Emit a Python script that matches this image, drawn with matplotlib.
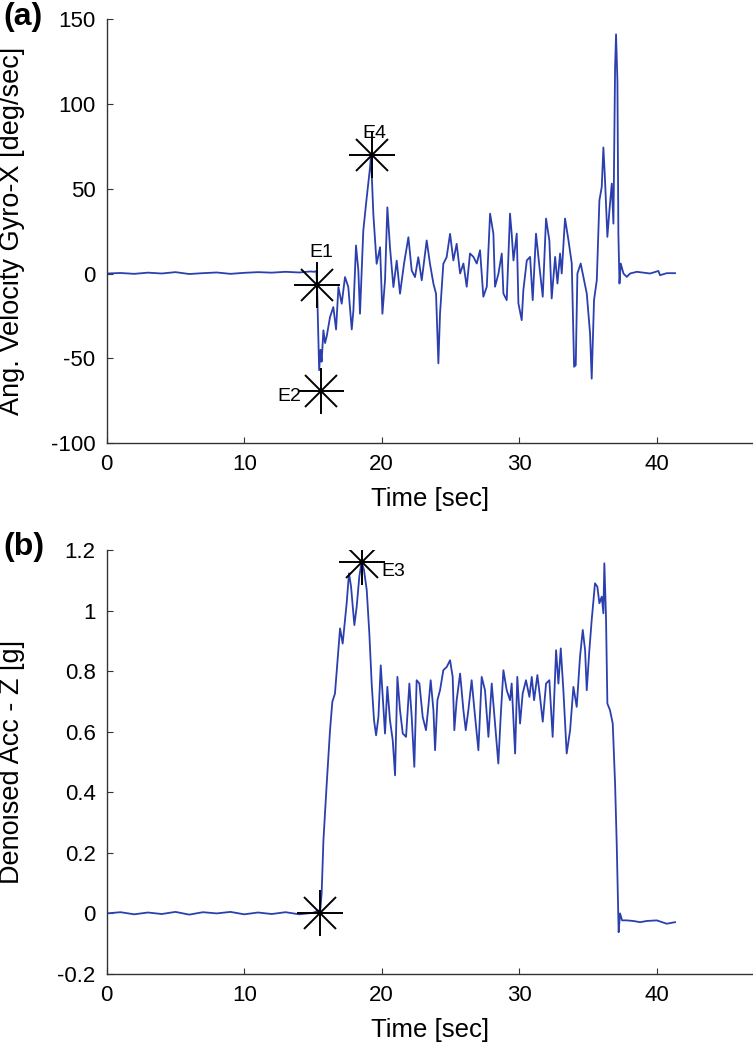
import matplotlib
matplotlib.use("Agg")
import matplotlib.pyplot as plt

plt.rcParams['font.family'] = ['Liberation Sans', 'DejaVu Sans']
plt.rcParams['axes.unicode_minus'] = False

# (a) gyro-x angular velocity
gyro_t = [0, 1, 2, 3, 4, 5, 6, 7, 8, 9, 10, 11, 12, 13, 14, 14.8, 15.1, 15.25,
          15.3, 15.45, 15.55, 15.63, 15.76, 15.88, 16.00, 16.24, 16.48, 16.68, 16.85,
          17.09, 17.33, 17.57, 17.82, 17.94, 18.13, 18.30, 18.42, 18.66, 18.91, 19.15,
          19.22, 19.39, 19.63, 19.88, 20.05, 20.24, 20.41, 20.60, 20.85, 21.09, 21.33,
          21.62, 21.94, 22.18, 22.42, 22.66, 22.91, 23.27, 23.51, 23.76, 23.95, 24.12,
          24.24, 24.48, 24.72, 24.97, 25.21, 25.45, 25.70, 25.94, 26.18, 26.42, 26.67,
          26.91, 27.15, 27.39, 27.64, 27.88, 28.12, 28.24, 28.49, 28.73, 28.85, 29.09,
          29.33, 29.45, 29.58, 29.82, 29.94, 30.18, 30.30, 30.55, 30.79, 30.98, 31.22,
          31.47, 31.71, 31.95, 32.19, 32.36, 32.61, 32.78, 32.97, 33.09, 33.33, 33.58,
          33.82, 33.99, 34.11, 34.23, 34.47, 34.67, 34.91, 35.15, 35.27, 35.44, 35.64,
          35.83, 36.00, 36.12, 36.24, 36.41, 36.56, 36.73, 36.85, 36.97, 37.04, 37.14,
          37.21, 37.29, 37.38, 37.58, 37.82, 38.06, 38.55, 39.52, 40.12, 40.24, 40.73,
          41.33]
gyro_v = [0, 0.3, -0.2, 0.5, 0, 0.8, -0.3, 0.2, 0.6, -0.2, 0.4, 0.8, 0.5, 1.0, 0.6, 1.2, 1.0, 1.5,
          -8, -57, -45, -52, -33.5, -41, -37, -25.7, -19.8, -33, -8,
          -17.8, -2.1, -8, -33, -21.8, 16.5, 1.8, -23.7, 25.3, 44.9, 62.5,
          69.5, 35.1, 5.7, 15.5, -23.7, -4, 39, 15.5, -8, 7.6, -11.9,
          5.7, 21.4, 1.8, -2.1, 9.6, -4, 19.5, 5.7, -6, -11.9, -53,
          -23.7, 5.7, 9.6, 23.4, 7.7, 17.5, 0, 5.9, -7.8, 11.8, 9.8,
          5.9, 13.7, -13.7, -7.8, 35.3, 23.5, -7.8, 0, 11.8, -11.8, -15.7,
          35.3, 23.5, 7.7, 23.5, -17.6, -27.5, -9.8, 7.7, 9.8, -15.7, 23.5,
          3.9, -13.7, 32.4, 19.6, -14.7, 9.8, -5.9, 11.8, 0, 32.4, 19.6,
          5.9, -55, -54, 0, 5.9, -2, -11.8, -35.3, -62, -15.7, -3.9,
          43.1, 51, 74.3, 54.9, 21.6, 37.3, 53, 29.4, 121.4, 141, 113.6,
          23.5, -5.9, 5.9, 0, -2, 0, 1, 0, 1.5, -1, 0.2,
          0.2]

# (b) denoised acc-z
acc_t = [0, 1, 2, 3, 4, 5, 6, 7, 8, 9, 10, 11, 12, 13, 14, 15, 15.45, 15.51,
         15.63, 15.76, 16.00, 16.24, 16.41, 16.60, 16.85, 16.97, 17.16, 17.26,
         17.45, 17.62, 17.77, 18.01, 18.18, 18.37, 18.54, 18.71, 18.91, 19.10,
         19.27, 19.44, 19.59, 19.76, 19.93, 20.07, 20.24, 20.41, 20.60, 20.80,
         20.97, 21.14, 21.33, 21.53, 21.77, 22.01, 22.18, 22.37, 22.54, 22.74,
         22.98, 23.22, 23.39, 23.56, 23.76, 23.88, 24.05, 24.24, 24.48, 24.73,
         24.97, 25.16, 25.28, 25.45, 25.70, 25.94, 26.11, 26.30, 26.54, 26.79,
         27.03, 27.27, 27.51, 27.76, 28.00, 28.24, 28.48, 28.65, 28.85, 29.09, 29.33,
         29.45, 29.70, 29.86, 30.06, 30.25, 30.49, 30.74, 30.91, 31.08, 31.32,
         31.51, 31.71, 31.95, 32.19, 32.43, 32.68, 32.85, 33.02, 33.21, 33.45,
         33.70, 33.94, 34.18, 34.42, 34.62, 34.79, 34.91, 35.10, 35.27, 35.51,
         35.68, 35.83, 36.00, 36.12, 36.19, 36.31, 36.41, 36.60, 36.80, 36.97,
         37.09, 37.19, 37.23, 37.33, 37.48, 37.82, 38.30, 38.79, 39.27, 40.00, 40.72, 41.33]
acc_v = [0, 0.004, -0.003, 0.003, -0.002, 0.005, -0.004, 0.004, 0.0, 0.005, -0.003, 0.003, -0.002, 0.004, -0.003, 0.002, 0.01, 0.0,
         0.065, 0.241, 0.428, 0.605, 0.699, 0.726, 0.869, 0.941, 0.891, 0.936,
         1.024, 1.123, 1.079, 0.952, 1.013, 1.112, 1.161, 1.134, 1.068, 0.924,
         0.759, 0.638, 0.588, 0.649, 0.819, 0.715, 0.594, 0.748, 0.638, 0.572,
         0.456, 0.781, 0.671, 0.594, 0.583, 0.759, 0.649, 0.484, 0.770, 0.759,
         0.649, 0.605, 0.682, 0.770, 0.671, 0.539, 0.704, 0.737, 0.803, 0.814,
         0.836, 0.781, 0.605, 0.704, 0.792, 0.671, 0.605, 0.671, 0.770, 0.649,
         0.539, 0.781, 0.737, 0.583, 0.759, 0.627, 0.495, 0.649, 0.803, 0.737, 0.704,
         0.759, 0.528, 0.781, 0.627, 0.726, 0.770, 0.715, 0.781, 0.704, 0.787,
         0.715, 0.633, 0.759, 0.770, 0.583, 0.869, 0.759, 0.875, 0.737, 0.528,
         0.605, 0.748, 0.682, 0.847, 0.936, 0.869, 0.737, 0.869, 0.969, 1.090,
         1.079, 1.024, 1.046, 0.991, 1.156, 0.98, 0.693, 0.671, 0.627, 0.428,
         0.229, 0.032, -0.062, 0.0, -0.023, -0.023, -0.025, -0.029, -0.025, -0.023, -0.034, -0.029]

# event markers and labels
gyro_ev_t = [15.3, 15.6, 19.3]
gyro_ev_v = [-6.5, -69, 70]
gyro_lbl = ['E1', 'E2', 'E4']
gyro_lbl_t = [15.6, 13.3, 19.45]
gyro_lbl_v = [12.5, -72.4, 82.5]

acc_ev_t = [15.5, 18.55]
acc_ev_v = [0.0, 1.161]

blue = '#2b3fae'
spine_col = '#333333'

fig = plt.figure(figsize=(7.53, 10.5), dpi=100)
ax1 = fig.add_axes([0.1417, 0.578, 0.8583, 0.4038])
ax2 = fig.add_axes([0.1417, 0.0724, 0.8583, 0.4038])


def star(ax, xs, ys):
    # matlab style asterisk = plus + cross
    ax.plot(xs, ys, ls='none', marker='+', ms=33, mew=1.4, color='black', zorder=3)
    ax.plot(xs, ys, ls='none', marker='x', ms=23, mew=1.4, color='black', zorder=3)


for ax in (ax1, ax2):
    for s in ('top', 'right'):
        ax.spines[s].set_visible(False)
    for s in ('left', 'bottom'):
        ax.spines[s].set_color(spine_col)
        ax.spines[s].set_linewidth(1.0)
    ax.tick_params(direction='in', length=4, width=0.8, color=spine_col,
                   labelsize=16, pad=8)
    ax.set_xlim(0, 47)
    ax.set_xticks([0, 10, 20, 30, 40])
    ax.set_xlabel('Time [sec]', fontsize=18.5)
    ax.xaxis.set_label_coords(0.5, -0.103)

ax1.plot(gyro_t, gyro_v, color=blue, lw=1.3)
star(ax1, gyro_ev_t, gyro_ev_v)
for lbl, x, y in zip(gyro_lbl, gyro_lbl_t, gyro_lbl_v):
    ax1.text(x, y, lbl, fontsize=14, ha='center', va='center')
ax1.set_ylim(-100, 150)
ax1.set_yticks([-100, -50, 0, 50, 100, 150])
ax1.set_ylabel('Ang. Velocity Gyro-X [deg/sec]', fontsize=19.5)
ax1.yaxis.set_label_coords(-0.127, 0.5)

ax2.plot(acc_t, acc_v, color=blue, lw=1.3)
star(ax2, acc_ev_t, acc_ev_v)
ax2.text(20.0, 1.128, 'E3', fontsize=14, ha='left', va='center')
ax2.set_ylim(-0.2, 1.2)
ax2.set_yticks([-0.2, 0, 0.2, 0.4, 0.6, 0.8, 1, 1.2])
ax2.set_yticklabels(['-0.2', '0', '0.2', '0.4', '0.6', '0.8', '1', '1.2'])
ax2.set_ylabel('Denoised Acc - Z [g]', fontsize=19.5)
ax2.yaxis.set_label_coords(-0.127, 0.5)

fig.text(0.004, 0.984, '(a)', fontsize=23, fontweight='bold', va='center')
fig.text(0.004, 0.479, '(b)', fontsize=23, fontweight='bold', va='center')

fig.savefig('out.png', dpi=100)
